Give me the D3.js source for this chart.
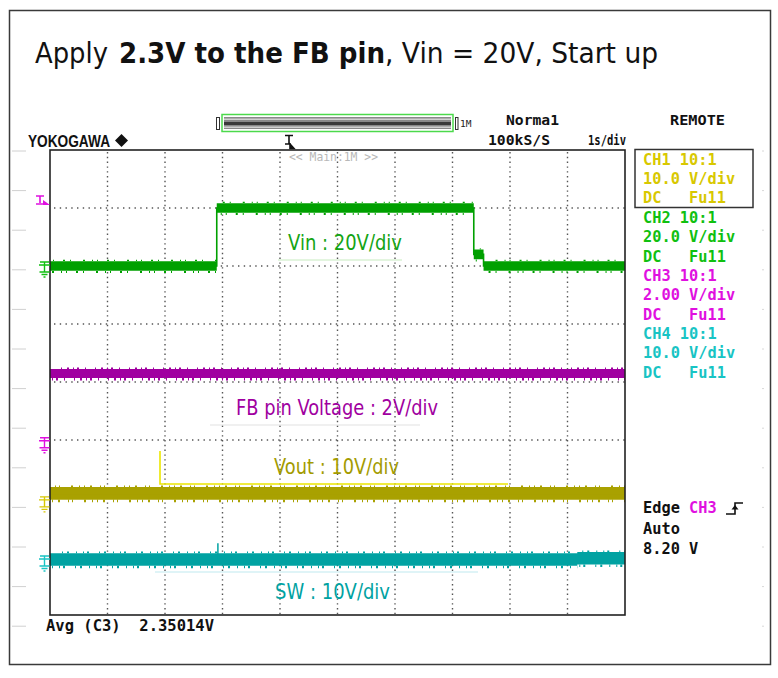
<!DOCTYPE html>
<html><head><meta charset="utf-8">
<script src="https://cdn.jsdelivr.net/npm/d3@7"></script>
<style>body{margin:0;background:#fff} svg{display:block} text{white-space:pre}</style>
</head><body><svg id="c" width="778" height="678"></svg>
<script>
// ---------------- DATA ----------------
const timeDomain = [0, 10];               // seconds, 1 s/div, 10 div
const vinTime = [0, 2.9, 7.37, 7.54, 10]; // CH2 (green)
const vinVolt = [0, 20, 4, 0, 0];
const fbTime = [0, 10];                   // CH3 (magenta)
const fbVolt = [2.35, 2.35];
const voutTime = [0, 10];                 // CH1 (yellow)
const voutVolt = [1.3, 1.3];
const swTime = [0, 9.17, 10];             // CH4 (cyan)
const swVolt = [0.1, 0.3, 0.3];
const swSpikeTime = [2.92];
const swSpikeVolt = [2.9];
const channelNames = ["CH1", "CH2", "CH3", "CH4"];
const channelProbe = ["10:1", "10:1", "10:1", "10:1"];
const channelVdiv = [10, 20, 2, 10];
const channelVdivLabels = ["10.0 V/div", "20.0 V/div", "2.00 V/div", "10.0 V/div"];
const channelCoupling = ["DC   Fu11", "DC   Fu11", "DC   Fu11", "DC   Fu11"];
const channelPosDiv = [-2.05, 2.0, -1.03, -3.07];
const traceLabels = ["Vin : 20V/div", "FB pin Voltage : 2V/div", "Vout : 10V/div", "SW : 10V/div"];
const titleParts = ["Apply", "2.3V to the FB pin", ", Vin = 20V, Start up"];
const avgText = "Avg (C3)  2.35014V";
const triggerLevel = 8.20;

// ---------------- STYLE ----------------
const svg = d3.select("#c");
const P = {x0: 50, x1: 625, y0: 150, y1: 614};
const traceCol = {CH1: "#a9a100", CH2: "#00a000", CH3: "#a000a0", CH4: "#00a2a2"};
const textCol = {CH1: "#d8c800", CH2: "#10c010", CH3: "#e010e0", CH4: "#18c4c4"};
const mono = "'DejaVu Sans Mono', monospace";

const x = d3.scaleLinear().domain(timeDomain).range([P.x0, P.x1]);
function yScale(i) {
  const p = channelPosDiv[i], v = channelVdiv[i];
  return d3.scaleLinear().domain([(-4 - p) * v, (4 - p) * v]).range([P.y1, P.y0]);
}
const yCH = [0, 1, 2, 3].map(yScale);

// outer frame
svg.append("rect").attr("x", 9.5).attr("y", 10.5).attr("width", 761).attr("height", 654)
  .attr("fill", "none").attr("stroke", "#3a3a3a").attr("stroke-width", 1.5);

// title
const tw = [[35, 73, 400], [119, 266, 700], [385, 273, 400]];
titleParts.forEach((t, i) => {
  svg.append("text").attr("x", tw[i][0]).attr("y", 63).attr("textLength", tw[i][1])
    .attr("lengthAdjust", "spacingAndGlyphs")
    .attr("font-family", "'DejaVu Sans', Verdana, sans-serif").attr("font-size", 28)
    .attr("font-weight", tw[i][2]).attr("fill", "#111").text(t);
});

// ruler marks outside (slide decoration)
for (let k = 0; k < 13; k++) {
  const yy = 151 + k * 39.6;
  svg.append("line").attr("x1", 12).attr("x2", 26).attr("y1", yy).attr("y2", yy)
    .attr("stroke", "#d0d0d0").attr("stroke-width", 1);
  svg.append("line").attr("x1", 762).attr("x2", 764).attr("y1", yy).attr("y2", yy)
    .attr("stroke", "#d8d8d8").attr("stroke-width", 1);
}

// header: YOKOGAWA
svg.append("text").attr("x", 28).attr("y", 147).attr("textLength", 82).attr("lengthAdjust", "spacingAndGlyphs")
  .attr("font-family", "'Liberation Sans', Arial, sans-serif").attr("font-weight", 700)
  .attr("font-size", 16).attr("fill", "#111").text("YOKOGAWA");
svg.append("path").attr("d", "M121.5,134 L128,140.5 L121.5,147 L115,140.5 Z").attr("fill", "#111");

// record bar
svg.append("rect").attr("x", 216.5).attr("y", 117.5).attr("width", 3).attr("height", 12)
  .attr("fill", "#fff").attr("stroke", "#333");
svg.append("rect").attr("x", 222).attr("y", 114.5).attr("width", 231).attr("height", 17)
  .attr("fill", "#fff").attr("stroke", "#4cd94c").attr("stroke-width", 1.5);
svg.append("rect").attr("x", 224).attr("y", 117).attr("width", 227).attr("height", 12).attr("fill", "#8a8a8a");
svg.append("rect").attr("x", 224).attr("y", 118.5).attr("width", 227).attr("height", 1.5).attr("fill", "#d0d0d0");
svg.append("rect").attr("x", 224).attr("y", 122).attr("width", 227).attr("height", 3).attr("fill", "#3a3a3a");
svg.append("rect").attr("x", 224).attr("y", 126.5).attr("width", 227).attr("height", 1.5).attr("fill", "#d0d0d0");
svg.append("rect").attr("x", 455.5).attr("y", 117.5).attr("width", 2.5).attr("height", 12)
  .attr("fill", "#fff").attr("stroke", "#333");
svg.append("text").attr("x", 460).attr("y", 127).attr("font-family", mono).attr("font-size", 9.5)
  .attr("fill", "#222").text("1M");

// header texts
function htext(s, xx, yy, len, size, w) {
  const t = svg.append("text").attr("x", xx).attr("y", yy).attr("font-family", mono)
    .attr("font-size", size || 14.5).attr("font-weight", w || 700).attr("fill", "#111").text(s);
  if (len) t.attr("textLength", len).attr("lengthAdjust", "spacingAndGlyphs");
  return t;
}
htext("Norma1", 506, 125, 53);
htext("100kS/S", 488, 145, 62);
htext("1s/div", 588, 145, 38);
htext("REMOTE", 670, 125, 55);

// trigger position mark at top
svg.append("path").attr("d", "M285,135.5H293M289,135.5V144M285,144H291 M290,144 L294,148.5 L290,148.5 Z")
  .attr("stroke", "#111").attr("stroke-width", 1.6).attr("fill", "#111");

// grid
const g = svg.append("g");
for (let i = 1; i < 10; i++) {
  g.append("line").attr("x1", x(i)).attr("x2", x(i)).attr("y1", P.y0 + 2).attr("y2", P.y1)
    .attr("stroke", "#555").attr("stroke-width", 1.4).attr("stroke-dasharray", "1.4 3.4");
}
for (let j = 1; j < 8; j++) {
  const yy = P.y0 + j * (P.y1 - P.y0) / 8;
  g.append("line").attr("x1", P.x0 + 4).attr("x2", P.x1).attr("y1", yy).attr("y2", yy)
    .attr("stroke", "#555").attr("stroke-width", 1.4).attr("stroke-dasharray", "1.4 4.35");
}

// main:1M label
svg.append("text").attr("x", 289).attr("y", 161).attr("font-family", mono).attr("font-size", 11.5)
  .attr("fill", "#b8b8b8").attr("textLength", 89).attr("lengthAdjust", "spacingAndGlyphs").text("<< Main:1M >>");

// slide label decoration lines
svg.append("line").attr("x1", 278).attr("x2", 402).attr("y1", 260).attr("y2", 260).attr("stroke", "#c8ecc0").attr("stroke-width", 1.2);
svg.append("line").attr("x1", 210).attr("x2", 420).attr("y1", 425).attr("y2", 425).attr("stroke", "#e2e2e2").attr("stroke-width", 1.2);
svg.append("path").attr("d", "M160,451V484H508").attr("fill", "none").attr("stroke", "#ece600").attr("stroke-width", 1.6);
svg.append("line").attr("x1", 155).attr("x2", 478).attr("y1", 572).attr("y2", 572).attr("stroke", "#bfeaf0").attr("stroke-width", 1.2);

// traces
const dash = ["1 5 2 8 1 3 1 11 2 6 1 4", "2 7 1 4 1 9 2 5 1 12", "1 3 2 6 1 9 1 5 2 4", "1 6 1 3 2 10 1 4 2 7"];
function trace(times, volts, ci, half, noise) {
  const col = traceCol[channelNames[ci]], y = yCH[ci];
  const data = times.map((t, k) => ({t, v: volts[k]}));
  const area = d3.area().curve(d3.curveStepAfter).x(d => x(d.t))
    .y0(d => y(d.v) + half).y1(d => y(d.v) - half);
  svg.append("path").datum(data).attr("d", area).attr("fill", col);
  const line = d3.line().curve(d3.curveStepAfter).x(d => x(d.t)).y(d => y(d.v));
  svg.append("path").datum(data).attr("d", line).attr("fill", "none").attr("stroke", col).attr("stroke-width", 1.6);
  for (let k = 0; k < data.length - 1; k++) {
    const yy = y(data[k].v);
    [[1, half + 1.2, noise], [-1, half + 0.8, noise * 0.6]].forEach(([s, off, w]) => {
      svg.append("line").attr("x1", x(data[k].t) + 2).attr("x2", x(data[k + 1].t))
        .attr("y1", yy + s * off).attr("y2", yy + s * off)
        .attr("stroke", col).attr("stroke-width", w).attr("stroke-dasharray", dash[ci])
        .attr("stroke-dashoffset", k * 7 + (s > 0 ? 0 : 13));
    });
  }
}
trace(vinTime, vinVolt, 1, 4.8, 2);
trace(fbTime, fbVolt, 2, 4.5, 2.6);
trace(voutTime, voutVolt, 0, 6.3, 2.6);
trace(swTime, swVolt, 3, 6.3, 2.6);
swSpikeTime.forEach((t, k) => {
  svg.append("line").attr("x1", x(t)).attr("x2", x(t)).attr("y1", yCH[3](swVolt[0])).attr("y2", yCH[3](swSpikeVolt[k]))
    .attr("stroke", traceCol.CH4).attr("stroke-width", 1.5);
});

// plot border
svg.append("rect").attr("x", P.x0).attr("y", P.y0).attr("width", P.x1 - P.x0).attr("height", P.y1 - P.y0 + 1)
  .attr("fill", "none").attr("stroke", "#222").attr("stroke-width", 1.6);

// trace labels
const labPos = [[288, 250, 114, 21, "#14a414"], [236, 415, 202, 20.5, traceCol.CH3],
                [274, 474, 125, 21, "#a39b00"], [275, 599, 115, 21, traceCol.CH4]];
traceLabels.forEach((s, i) => {
  const p = labPos[i];
  svg.append("text").attr("x", p[0]).attr("y", p[1]).attr("textLength", p[2]).attr("lengthAdjust", "spacingAndGlyphs")
    .attr("font-family", "'DejaVu Sans', Verdana, sans-serif").attr("font-size", p[3]).attr("fill", p[4]).text(s);
});

// ground markers
[0, 1, 2, 3].forEach(ci => {
  const gy = yCH[ci](0), col = textCol[channelNames[ci]];
  svg.append("path").attr("d", `M39,${gy - 1}H50 M44.5,${gy - 4}V${gy + 6} M40,${gy - 4}H49 M39.5,${gy + 6}H49.5 M41.5,${gy + 8.5}H47.5 M43.5,${gy + 11}H45.5`)
    .attr("stroke", col).attr("stroke-width", 1.4).attr("fill", "none");
});
// trigger level marker
const ty = yCH[2](triggerLevel);
svg.append("path").attr("d", `M36,${ty - 8}H44 M40,${ty - 8}V${ty - 1} M36,${ty}H44`)
  .attr("stroke", textCol.CH3).attr("stroke-width", 1.6).attr("fill", "none");
svg.append("path").attr("d", `M43,${ty - 4} L50,${ty + 1} L43,${ty + 1} Z`).attr("fill", textCol.CH3);

// right panel
svg.append("rect").attr("x", 635).attr("y", 149.5).attr("width", 118).attr("height", 58)
  .attr("fill", "none").attr("stroke", "#333").attr("stroke-width", 1.5);
const centers = [159, 178, 197.5, 217, 236.5, 256, 275, 294.5, 314, 333, 352.5, 372];
channelNames.forEach((c, i) => {
  const lines = [c + " " + channelProbe[i], channelVdivLabels[i], channelCoupling[i]];
  lines.forEach((s, k) => {
    svg.append("text").attr("x", 643).attr("y", centers[i * 3 + k] + 5.5).attr("font-family", mono)
      .attr("font-size", 15.3).attr("font-weight", 700).attr("fill", textCol[c]).text(s);
  });
});
// trigger info
const tEdge = svg.append("text").attr("x", 643).attr("y", 512.5).attr("font-family", mono)
  .attr("font-size", 15.3).attr("font-weight", 700).attr("fill", "#111");
tEdge.append("tspan").text("Edge ");
tEdge.append("tspan").attr("fill", textCol.CH3).text(channelNames[2]);
svg.append("path").attr("d", "M726,514H735V503H743").attr("stroke", "#111").attr("stroke-width", 1.6).attr("fill", "none");
svg.append("path").attr("d", "M731.5,509.5 L735,505 L738.5,509.5 Z").attr("fill", "#111");
svg.append("text").attr("x", 643).attr("y", 533.5).attr("font-family", mono).attr("font-size", 15.3)
  .attr("font-weight", 700).attr("fill", "#111").text("Auto");
svg.append("text").attr("x", 643).attr("y", 553.5).attr("font-family", mono).attr("font-size", 15.3)
  .attr("font-weight", 700).attr("fill", "#111").text(triggerLevel.toFixed(2) + " V");

// avg readout
svg.append("text").attr("x", 46).attr("y", 630.5).attr("font-family", mono).attr("font-size", 15.5)
  .attr("font-weight", 700).attr("fill", "#111").text(avgText);
</script></body></html>
